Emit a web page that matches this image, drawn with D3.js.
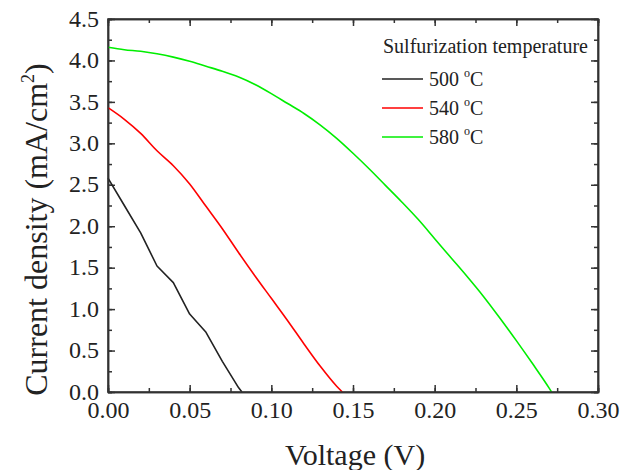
<!DOCTYPE html>
<html>
<head>
<meta charset="utf-8">
<script src="https://cdn.jsdelivr.net/npm/d3@7"></script>
<style>
  body { margin: 0; background: #fff; }
  .chart text { font-family: "Liberation Serif", "Times New Roman", serif; fill: #222; }
  .axis path, .axis line { stroke: #333; stroke-width: 1.5; }
</style>
</head>
<body>
<div class="chart"></div>
<script>
var svgWidth = 633;
var svgHeight = 470;

var margin = { top: 19, right: 35, bottom: 78, left: 108 };

var width = svgWidth - margin.left - margin.right;
var height = svgHeight - margin.top - margin.bottom;

// data
var seriesNames = ["500", "540", "580"];
var seriesColors = ["#222222", "#ff0000", "#00ee00"];

var voltage500 = [0, 0.01, 0.02, 0.03, 0.04, 0.05, 0.06, 0.07, 0.08, 0.082];
var current500 = [2.58, 2.25, 1.92, 1.52, 1.32, 0.94, 0.72, 0.37, 0.05, 0];

var voltage540 = [0, 0.01, 0.02, 0.03, 0.04, 0.05, 0.06, 0.07, 0.08, 0.09, 0.10, 0.11, 0.12, 0.13, 0.14, 0.1435];
var current540 = [3.43, 3.29, 3.12, 2.91, 2.73, 2.51, 2.24, 1.97, 1.68, 1.40, 1.13, 0.86, 0.58, 0.31, 0.07, 0];

var voltage580 = [0, 0.01, 0.02, 0.03, 0.04, 0.05, 0.06, 0.07, 0.08, 0.09, 0.10, 0.11, 0.12, 0.13, 0.14,
  0.15, 0.16, 0.17, 0.18, 0.19, 0.20, 0.21, 0.22, 0.23, 0.24, 0.25, 0.26, 0.27, 0.2716];
var current580 = [4.16, 4.13, 4.11, 4.08, 4.04, 3.99, 3.93, 3.87, 3.80, 3.71, 3.60, 3.48, 3.36, 3.22, 3.06,
  2.88, 2.69, 2.49, 2.29, 2.08, 1.85, 1.62, 1.39, 1.15, 0.89, 0.62, 0.34, 0.05, 0];

var xTicks = [0, 0.05, 0.10, 0.15, 0.20, 0.25, 0.30];
var yTicks = [0, 0.5, 1.0, 1.5, 2.0, 2.5, 3.0, 3.5, 4.0, 4.5];
var xMinor = d3.range(0, 0.3001, 0.025);
var yMinor = d3.range(0, 4.501, 0.25);

var legendTitle = "Sulfurization temperature";

var allSeries = [
  { name: seriesNames[0], color: seriesColors[0], x: voltage500, y: current500, curve: d3.curveLinear },
  { name: seriesNames[1], color: seriesColors[1], x: voltage540, y: current540, curve: d3.curveMonotoneX },
  { name: seriesNames[2], color: seriesColors[2], x: voltage580, y: current580, curve: d3.curveMonotoneX }
];

var svg = d3.select(".chart")
  .append("svg")
  .attr("width", svgWidth)
  .attr("height", svgHeight)
  .append("g")
  .attr("transform", "translate(" + margin.left + "," + margin.top + ")");

var xScale = d3.scaleLinear().domain([0, 0.30]).range([0, width]);
var yScale = d3.scaleLinear().domain([0, 4.5]).range([height, 0]);

// minor ticks (inside), all four sides
svg.append("g").attr("class", "axis").attr("transform", "translate(0," + height + ")")
  .call(d3.axisBottom(xScale).tickValues(xMinor).tickSize(-4).tickFormat(""));
svg.append("g").attr("class", "axis")
  .call(d3.axisTop(xScale).tickValues(xMinor).tickSize(-4).tickFormat(""));
svg.append("g").attr("class", "axis")
  .call(d3.axisLeft(yScale).tickValues(yMinor).tickSize(-4).tickFormat(""));
svg.append("g").attr("class", "axis").attr("transform", "translate(" + width + ",0)")
  .call(d3.axisRight(yScale).tickValues(yMinor).tickSize(-4).tickFormat(""));

// major ticks
var bottomAxis = svg.append("g").attr("class", "axis").attr("transform", "translate(0," + height + ")")
  .call(d3.axisBottom(xScale).tickValues(xTicks).tickSizeInner(-7).tickSizeOuter(0).tickPadding(12)
    .tickFormat(d3.format(".2f")));

var leftAxis = svg.append("g").attr("class", "axis")
  .call(d3.axisLeft(yScale).tickValues(yTicks).tickSizeInner(-7).tickSizeOuter(0).tickPadding(9)
    .tickFormat(d3.format(".1f")));

svg.append("g").attr("class", "axis")
  .call(d3.axisTop(xScale).tickValues(xTicks).tickSizeInner(-7).tickSizeOuter(0).tickFormat(""));
svg.append("g").attr("class", "axis").attr("transform", "translate(" + width + ",0)")
  .call(d3.axisRight(yScale).tickValues(yTicks).tickSizeInner(-7).tickSizeOuter(0).tickFormat(""));

svg.selectAll(".axis")
  .attr("font-family", "Liberation Serif, serif")
  .attr("font-size", 24);
svg.selectAll(".axis text").attr("fill", "#222");
leftAxis.selectAll("text").attr("dy", "0.3em");
bottomAxis.selectAll("text").attr("dy", "0.6em");

// curves
allSeries.forEach(function(s) {
  var line = d3.line()
    .curve(s.curve)
    .x(function(d) { return xScale(d[0]); })
    .y(function(d) { return yScale(d[1]); });
  var pts = s.x.map(function(v, i) { return [v, s.y[i]]; });
  svg.append("path")
    .datum(pts)
    .attr("fill", "none")
    .attr("stroke", s.color)
    .attr("stroke-width", 1.6)
    .attr("stroke-linejoin", "round")
    .attr("d", line);
});

// frame
svg.append("rect")
  .attr("width", width)
  .attr("height", height)
  .attr("fill", "none")
  .attr("stroke", "#333")
  .attr("stroke-width", 1.5);

// legend
var legend = svg.append("g").attr("transform", "translate(" + (383 - margin.left) + "," + (53 - margin.top) + ")");
legend.append("text")
  .attr("x", 0)
  .attr("y", 0)
  .attr("font-size", 20)
  .text(legendTitle);

allSeries.forEach(function(s, i) {
  var yy = 26 + i * 29;
  legend.append("line")
    .attr("x1", -1).attr("x2", 40)
    .attr("y1", yy).attr("y2", yy)
    .attr("stroke", s.color)
    .attr("stroke-width", 1.6);
  var t = legend.append("text")
    .attr("x", 46)
    .attr("y", yy + 7)
    .attr("font-size", 20);
  t.append("tspan").text(s.name + " ");
  t.append("tspan").attr("font-size", 12).attr("dy", -9).text("o");
  t.append("tspan").attr("dy", 9).text("C");
});

// axis titles
svg.append("text")
  .attr("x", width / 2 + 2)
  .attr("y", height + 73)
  .attr("text-anchor", "middle")
  .attr("font-size", 30)
  .text("Voltage (V)");

var yTitle = svg.append("text")
  .attr("transform", "translate(" + (47 - margin.left) + "," + (height / 2 + 24) + ") rotate(-90)")
  .attr("text-anchor", "middle")
  .attr("font-size", 32);
yTitle.append("tspan").text("Current density (mA/cm");
yTitle.append("tspan").attr("font-size", 18).attr("dy", -13).text("2");
yTitle.append("tspan").attr("dy", 13).text(")");
</script>
</body>
</html>
